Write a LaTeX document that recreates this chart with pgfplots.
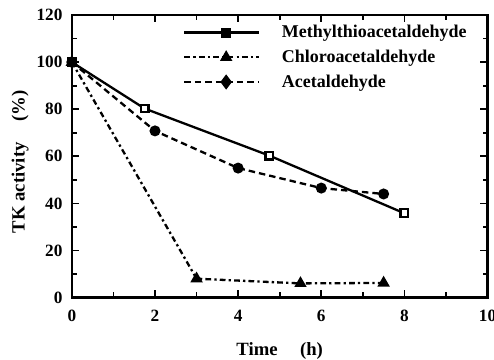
\documentclass[border=0pt]{standalone}
\usepackage{pgfplots}
\pgfplotsset{compat=1.18}
\usepackage{fontspec}
\setmainfont{Liberation Serif}
\pgfplotsset{
  legbase/.style={legend image code/.code={
    \draw[##1] (0pt,0pt) -- (52pt,0pt);
    \draw[##1, solid] plot coordinates {(29pt,0pt)};
    \path (65pt,0pt);}},
  legsq/.style={legend image code/.code={
    \draw[##1] (0pt,0pt) -- (52pt,0pt);
    \draw[##1, solid, mark options={fill=black}] plot coordinates {(29pt,0pt)};
    \path (65pt,0pt);}},
  legdia/.style={legend image code/.code={
    \draw[##1] (0pt,0pt) -- (52pt,0pt);
    \draw[##1, solid, mark=diamond*, mark size=4pt] plot coordinates {(29pt,0pt)};
    \path (65pt,0pt);}},
}
\begin{document}
\begin{tikzpicture}
\useasboundingbox (-50pt,-43.2pt) rectangle (293.7pt,207pt);
\begin{axis}[
  scale only axis,
  width=289.2pt, height=196.5pt,
  xmin=0, xmax=10, ymin=0, ymax=120,
  xtick={0,2,...,10}, ytick={0,20,...,120},
  minor xtick={1,3,...,9}, minor ytick={10,30,...,110},
  tick align=inside,
  major tick length=5pt, minor tick length=3.5pt,
  every tick/.style={black, line width=1.2pt},
  axis line style={line width=1.8pt},
  /pgf/number format/assume math mode=true,
  ticklabel style={font=\bfseries\fontsize{12}{13}\selectfont},
  xticklabel style={yshift=-5.5pt},
  yticklabel style={xshift=-3pt},
  xlabel={\bfseries Time\hspace{1.2em}(h)},
  ylabel={\bfseries TK activity\hspace{1.1em}(\%)},
  label style={font=\bfseries\fontsize{13}{14}\selectfont},
  xlabel style={at={(axis description cs:0.5,0)}, anchor=center, yshift=-37pt},
  ylabel style={at={(axis description cs:0,0.48)}, anchor=center, yshift=36pt},
  legend style={draw=none, fill=none, at={(axis description cs:0.2675,0.975)}, anchor=north west,
    font=\bfseries\fontsize{12.5}{13}\selectfont, row sep=3pt, inner sep=0pt},
  legend cell align=left,
  legbase,
]
\addplot[black, line width=1.6pt, mark=square*, mark size=2.7pt, mark options={solid, fill=white, line width=1.5pt}, legsq]
  coordinates {(0,100) (1.75,80.3) (4.75,60.3) (8,35.8)};
\addlegendentry{Methylthioacetaldehyde}
\addplot[black, line width=1.6pt, dash pattern=on 4pt off 2.2pt on 1.6pt off 2.2pt, mark=triangle*, mark size=3.4pt, mark options={solid}]
  coordinates {(0,100) (3,8) (5.5,6) (7.5,6.2)};
\addlegendentry{Chloroacetaldehyde}
\addplot[black, line width=1.6pt, dash pattern=on 4.5pt off 2.8pt, mark=*, mark size=3pt, mark options={solid}, legdia]
  coordinates {(0,100) (2,70.8) (4,55) (6,46.5) (7.5,44)};
\addlegendentry{Acetaldehyde}
\end{axis}
\end{tikzpicture}
\end{document}
